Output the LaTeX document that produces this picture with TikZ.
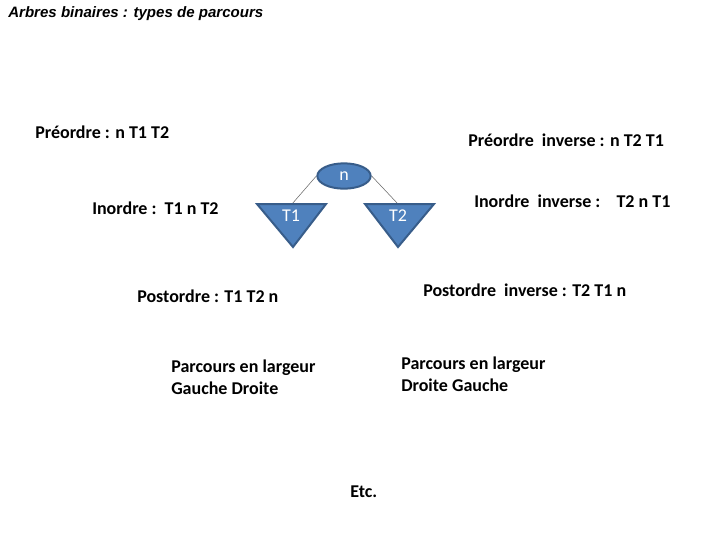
\documentclass[tikz,border=0pt]{standalone}
\usepackage{fontspec}
\setmainfont{Carlito}
\newfontfamily\titlefont{Liberation Sans}
\usepackage{tikz}
\usetikzlibrary{positioning,shapes.geometric}
\definecolor{nodefill}{HTML}{4F81BD}
\definecolor{nodeedge}{HTML}{385D8A}
\tikzset{
  lbl/.style={anchor=west,inner sep=0pt,align=left,font=\bfseries\fontsize{13.5}{16.5}\selectfont},
  root/.style={ellipse,draw=nodeedge,fill=nodefill,line width=1.5pt,minimum width=40pt,minimum height=19pt,inner sep=0pt,text=white,font=\fontsize{13.5}{15}\selectfont},
  subtree/.style={draw=nodeedge,fill=nodefill,line width=1.5pt,line join=miter},
  sublbl/.style={inner sep=0pt,text=white,font=\fontsize{13.5}{15}\selectfont},
  edge/.style={draw=black!60,line width=0.4pt}
}
\begin{document}
\begin{tikzpicture}[x=0.75pt,y=-0.75pt]
\useasboundingbox (0,0) rectangle (720,540);
\node[anchor=west,inner sep=0pt,font=\titlefont\bfseries\itshape\fontsize{11.3}{13}\selectfont] (title) at (8,14) {Arbres binaires : types de parcours};
% the tree
\node[root] (n) at (344,176) {n};
\coordinate (t1top) at (292,204);
\coordinate (t2top) at (398,204);
\draw[edge] (n.west) -- (t1top);
\draw[edge] (n.east) -- (t2top);
\draw[subtree] (257,204) -- (326,204) -- (293,247) -- cycle;
\draw[subtree] (365,204) -- (434,204) -- (398,247) -- cycle;
\node[sublbl] (T1) at (291,216) {T1};
\node[sublbl] (T2) at (398,216) {T2};
% the traversals
\node[lbl] (pre) at (35,132) {Préordre : n T1 T2};
\node[lbl] (preinv) at (468,140) {Préordre\ \ inverse : n T2 T1};
\node[lbl] (in) at (92,208) {Inordre :\ \ T1 n T2};
\node[lbl] (ininv) at (474,201) {Inordre\ \ inverse :\hspace{0.9em}T2 n T1};
\node[lbl] (post) at (137,296) {Postordre : T1 T2 n};
\node[lbl] (postinv) at (423,290) {Postordre\ \ inverse : T2 T1 n};
\node[lbl] (larggd) at (171,377) {Parcours en largeur\\Gauche Droite};
\node[lbl] (largdg) at (401,374) {Parcours en largeur\\Droite Gauche};
\node[lbl] (etc) at (350,492) {Etc.};
\end{tikzpicture}
\end{document}
